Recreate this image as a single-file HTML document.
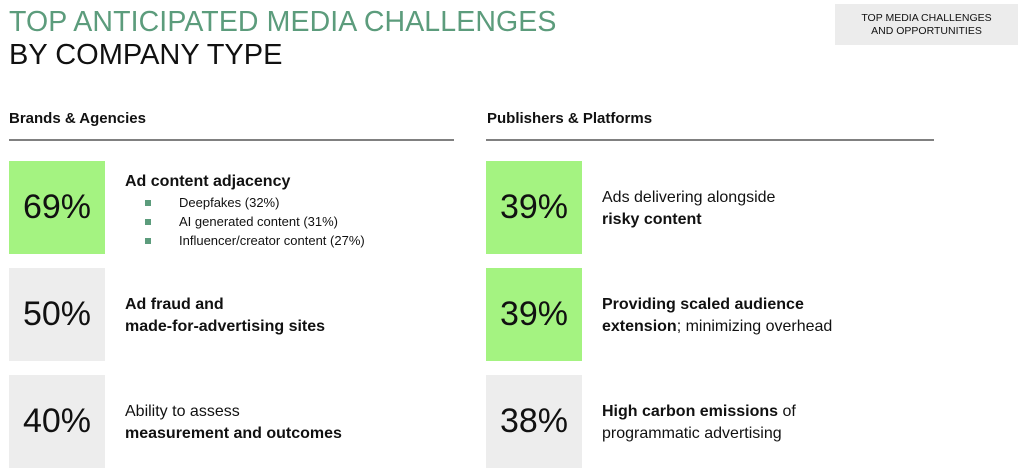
<!DOCTYPE html>
<html><head><meta charset="utf-8"><style>
body{margin:0;width:1024px;height:476px;background:#fff;font-family:"Liberation Sans",sans-serif;color:#111;position:relative;overflow:hidden}
.a{position:absolute}
.t1{left:9px;top:6px;font-size:28.5px;color:#5c9c7c;white-space:nowrap;letter-spacing:0.1px}
.t2{left:9px;top:39px;font-size:29px;color:#111;white-space:nowrap}
.badge{left:835px;top:4px;width:183px;height:41px;background:#ececec;font-size:10.5px;text-align:center;line-height:13px;padding-top:8px;box-sizing:border-box}
.h{font-size:15px;font-weight:bold;top:110px}
.line{height:2px;background:#808080;top:139px}
.box{width:96px;height:93px;font-size:34px;display:flex;align-items:center;justify-content:center}
.g{background:#a4f381}.gr{background:#ededed}
.tx{font-size:16px;line-height:22px}
.b{font-weight:bold}
.bul{font-size:13px;line-height:19px}
.bul span{display:inline-block;width:6px;height:6px;background:#5c9c7c;margin:0 28px 1px 20px}
</style></head><body>
<div class="a t1">TOP ANTICIPATED MEDIA CHALLENGES</div>
<div class="a t2">BY COMPANY TYPE</div>
<div class="a badge">TOP MEDIA CHALLENGES<br>AND OPPORTUNITIES</div>
<div class="a h" style="left:9px">Brands &amp; Agencies</div>
<div class="a h" style="left:487px">Publishers &amp; Platforms</div>
<div class="a line" style="left:9px;width:445px"></div>
<div class="a line" style="left:486px;width:448px"></div>

<div class="a box g" style="left:9px;top:161px">69%</div>
<div class="a" style="left:125px;top:171px"><div class="tx b">Ad content adjacency</div>
<div class="bul"><span></span>Deepfakes (32%)</div>
<div class="bul"><span></span>AI generated content (31%)</div>
<div class="bul"><span></span>Influencer/creator content (27%)</div></div>

<div class="a box gr" style="left:9px;top:268px">50%</div>
<div class="a tx b" style="left:125px;top:294px">Ad fraud and<br>made-for-advertising sites</div>

<div class="a box gr" style="left:9px;top:375px">40%</div>
<div class="a tx" style="left:125px;top:401px">Ability to assess<br><b>measurement and outcomes</b></div>

<div class="a box g" style="left:486px;top:161px">39%</div>
<div class="a tx" style="left:602px;top:187px">Ads delivering alongside<br><b>risky content</b></div>

<div class="a box g" style="left:486px;top:268px">39%</div>
<div class="a tx" style="left:602px;top:294px"><b>Providing scaled audience<br>extension</b>; minimizing overhead</div>

<div class="a box gr" style="left:486px;top:375px">38%</div>
<div class="a tx" style="left:602px;top:401px"><b>High carbon emissions</b> of<br>programmatic advertising</div>
</body></html>
